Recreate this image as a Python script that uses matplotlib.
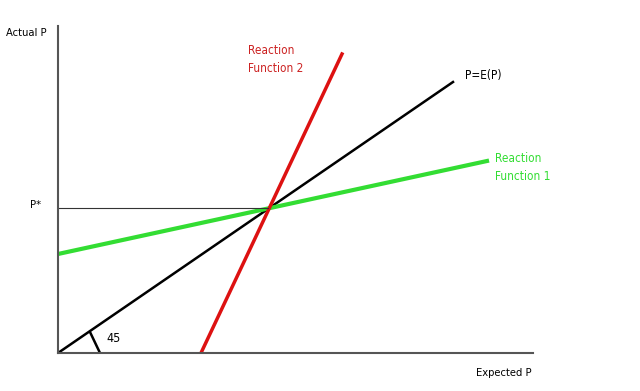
import matplotlib.pyplot as plt

# expected P (x) / actual P (y), in axis units
ee_x = [0, 395]
ee_y = [0, 271]
rf1_x = [0, 429]
rf1_y = [99, 192]
rf2_x = [143, 284]
rf2_y = [0, 299]
p_star = 145
p_star_x = 210

plt.rcParams['font.family'] = ['DejaVu Sans']
plt.rcParams['font.stretch'] = 'condensed'

fig = plt.figure(figsize=(6.4, 3.91), dpi=100)
ax = fig.add_axes([58 / 640, 38 / 391, 475 / 640, 327 / 391])
ax.set_xlim(0, 475)
ax.set_ylim(0, 327)

ax.plot(ee_x, ee_y, color='black', lw=1.8)
ax.plot(rf1_x, rf1_y, color='#33dd33', lw=3)
ax.plot(rf2_x, rf2_y, color='#dd1111', lw=2.5)
ax.plot([0, p_star_x], [p_star, p_star], color='#333333', lw=0.8)

# 45 degree marker
ax.plot([32, 42], [21, 0], color='black', lw=1.8)
ax.text(48, 14, '45', fontsize=9, va='center')

for s in ['top', 'right']:
    ax.spines[s].set_visible(False)
for s in ['left', 'bottom']:
    ax.spines[s].set_color('#555555')
    ax.spines[s].set_linewidth(1.5)
ax.set_xticks([])
ax.set_yticks([])

ax.text(-11, 320, 'Actual P', fontsize=8, ha='right', va='center', clip_on=False)
ax.text(-28, 148, 'P*', fontsize=8, ha='left', va='center', clip_on=False)
ax.text(474, -20, 'Expected P', fontsize=8, ha='right', va='center', clip_on=False)
ax.text(407, 277, 'P=E(P)', fontsize=8.5, ha='left', va='center')
ax.text(190, 293, 'Reaction\nFunction 2', fontsize=8.5, color='#cc2222',
        ha='left', va='center', linespacing=1.5)
ax.text(437, 185, 'Reaction\nFunction 1', fontsize=8.5, color='#33dd33',
        ha='left', va='center', linespacing=1.5, clip_on=False)

fig.savefig('out.png', dpi=100)
